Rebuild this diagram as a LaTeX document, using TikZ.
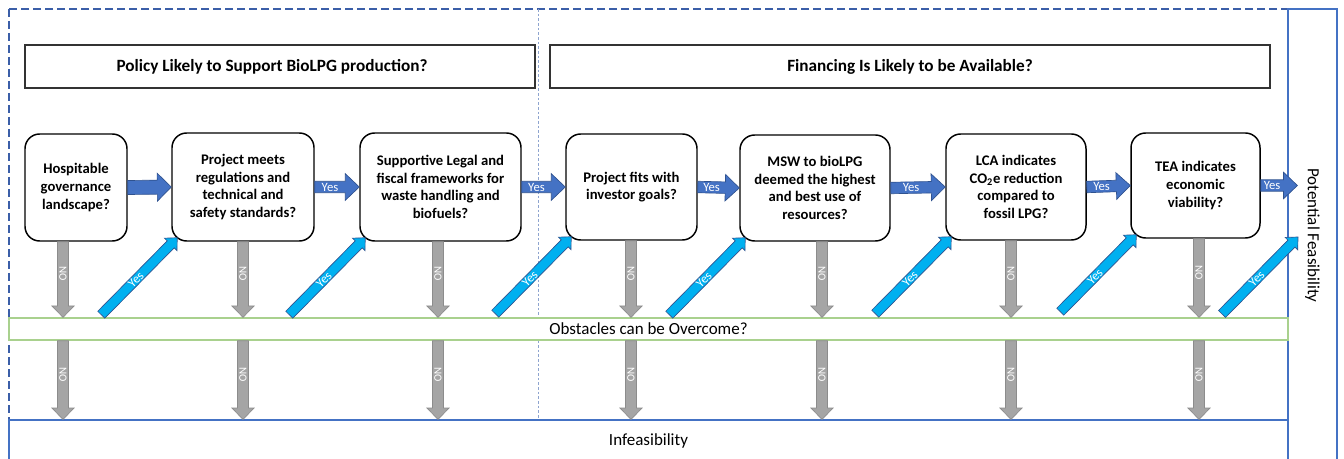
\documentclass[tikz,border=0pt]{standalone}
\usepackage{fontspec}
\setmainfont{Carlito}
\usetikzlibrary{calc}

\definecolor{dashblue}{HTML}{3B5EA8}
\definecolor{frameblue}{HTML}{4472C4}
\definecolor{arrowblue}{HTML}{4472C4}
\definecolor{arrowedge}{HTML}{2F528F}
\definecolor{cyanfill}{HTML}{00B0F0}
\definecolor{grayfill}{HTML}{A5A5A5}
\definecolor{grayedge}{HTML}{8C8C8C}
\definecolor{obstgreen}{HTML}{A9D18E}
\definecolor{divgray}{HTML}{8EA4CF}

% block arrow: style, from, to, shaft half width, head half width, head length, label options, label
\newcommand{\fatarrow}[8]{%
  \coordinate (fa-neck) at ($(#3)!#6!(#2)$);
  \draw[#1] ($(#2)!#4!90:(#3)$) -- ($(fa-neck)!#4!-90:(#2)$)
    -- ($(fa-neck)!#5!-90:(#2)$) -- (#3)
    -- ($(fa-neck)!#5!90:(#2)$) -- ($(fa-neck)!#4!90:(#2)$)
    -- ($(#2)!#4!-90:(#3)$) -- cycle;
  \path (#2) -- (fa-neck) node[midway, arrowlabel, #7] (fa-label) {#8};
}

\tikzset{
  spans/.style args={#1,#2,#3,#4}{at={({(#1+#3)/2},{(#2+#4)/2})},
    minimum width={(#3-#1)*0.75pt}, minimum height={(#4-#2)*0.75pt}},
  qbox/.style={draw=black, line width=1.1pt, rounded corners=11pt, fill=white,
    inner sep=0pt, align=center, font=\fontsize{11}{13.2}\selectfont\bfseries},
  titlebox/.style={draw=black!80, line width=0.9pt, inner sep=0pt,
    font=\fontsize{12.9}{15}\selectfont\bfseries},
  outbox/.style={draw=frameblue, line width=0.9pt, inner sep=0pt,
    font=\fontsize{12.75}{15}\selectfont},
  obstbox/.style={draw=obstgreen, line width=1pt, fill=white, inner sep=0pt,
    font=\fontsize{12.75}{15}\selectfont},
  dashframe/.style={draw=dashblue, line width=0.8pt, dash pattern=on 6pt off 3pt},
  divider/.style={draw=divgray, line width=0.5pt, dash pattern=on 2pt off 1.5pt},
  bluearrow/.style={fill=arrowblue, draw=arrowedge, line width=0.5pt},
  cyanarrow/.style={fill=cyanfill, draw=arrowedge, line width=0.5pt},
  grayarrow/.style={fill=grayfill, draw=grayedge, line width=0.5pt},
  arrowlabel/.style={text=white, inner sep=0pt},
  yeslabel/.style={font=\fontsize{9.5}{10}\selectfont},
  nolabel/.style={font=\fontsize{8.3}{9}\selectfont, rotate=-90}
}

\begin{document}
\begin{tikzpicture}[x=0.75pt, y=-0.75pt]
  \useasboundingbox (0,0) rectangle (1344,459);

  %%%%% FRAMES %%%%%
  \draw[dashframe] (9,9) rectangle (1288,420);
  \draw[divider] (538,9) -- (538,420);

  \node[titlebox, spans={25,45,535,88}] (policy) {Policy Likely to Support BioLPG production?\hspace*{12pt}};
  \node[titlebox, spans={550,45,1270,88}] (finance) {Financing Is Likely to be Available?};

  \node[outbox, spans={9,420,1288,461}] (infeas) {Infeasibility};
  \node[outbox, spans={1288,9,1337,462}] (feas) {};
  \node[rotate=-90, font=\fontsize{12.75}{15}\selectfont] (feastext) at (feas.center) {Potential Feasibility};

  \node[obstbox, spans={9,318,1288,340}] (obst) {Obstacles can be Overcome?};

  %%%%% QUESTIONS %%%%%
  \node[qbox, spans={25,134,127,241}] (hosp) {Hospitable\\governance\\landscape?};
  \node[qbox, spans={172,133,314,241}] (regs) {Project meets\\regulations and\\technical and\\safety standards?};
  \node[qbox, spans={360,133,521,241}] (legal) {Supportive Legal and\\fiscal frameworks for\\waste handling and\\biofuels?};
  \node[qbox, spans={566,134,697,240}] (invest) {Project fits with\\investor goals?};
  \node[qbox, spans={740,135,890,241}] (msw) {MSW to bioLPG\\deemed the highest\\and best use of\\resources?};
  \node[qbox, spans={946,134,1086,240}] (lca) {LCA indicates\\CO\textsubscript{2}e reduction\\compared to\\fossil LPG?};
  \node[qbox, spans={1131,133,1260,238}] (tea) {TEA indicates\\economic\\viability?};

  \coordinate (feas-in) at ($(feas.west |- tea.east)+(10,0)$);
  \coordinate (feas-sw) at (1292,241);

  %%%%% YES ALONG THE TOP %%%%%
  \fatarrow{bluearrow}{hosp.east}{regs.west}{5.25pt}{10.5pt}{10.5pt}{}{}
  \foreach \src/\dst in {regs.east/legal.west, legal.east/invest.west, invest.east/msw.west,
                         msw.east/lca.west, lca.east/tea.west, tea.east/feas-in} {
    \fatarrow{bluearrow}{\src}{\dst}{4.3pt}{10pt}{10.5pt}{yeslabel}{Yes}
  }

  %%%%% NO DOWNWARDS %%%%%
  \foreach \b/\x in {hosp/63, regs/243, legal/438, invest/631, msw/822, lca/1011, tea/1199} {
    \coordinate (no-a) at (\x,0 |- \b.south);
    \coordinate (no-b) at (\x,0 |- obst.north);
    \coordinate (no-c) at (\x,0 |- obst.south);
    \coordinate (no-d) at (\x,0 |- infeas.north);
    \fatarrow{grayarrow}{no-a}{no-b}{4.1pt}{8.3pt}{8.5pt}{nolabel}{NO}
    \fatarrow{grayarrow}{no-c}{no-d}{4.1pt}{8.3pt}{8.5pt}{nolabel}{NO}
  }

  %%%%% YES OVER THE OBSTACLES %%%%%
  \foreach \t in {regs.south west, legal.south west, invest.south west, msw.south west,
                  lca.south west, tea.south west, feas-sw} {
    \coordinate (yes-tip) at ($(\t)+(6,-4)$);
    \coordinate (yes-tail) at ($(yes-tip)+(-76,77)$);
    \fatarrow{cyanarrow}{yes-tail}{yes-tip}{3.7pt}{6.6pt}{7pt}{yeslabel, rotate=45}{Yes}
  }
\end{tikzpicture}
\end{document}
